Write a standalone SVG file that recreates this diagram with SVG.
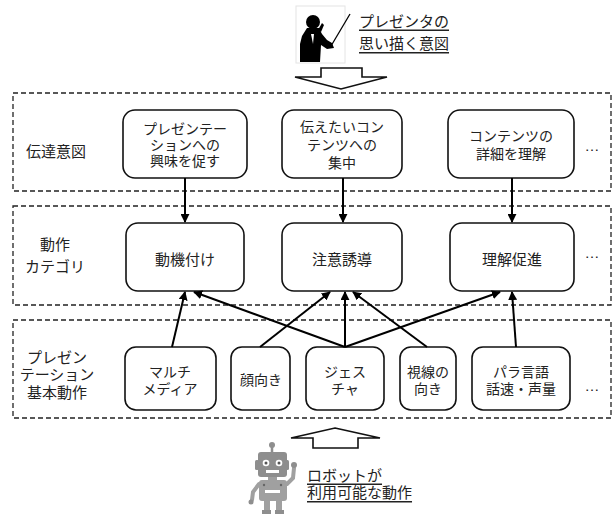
<svg xmlns="http://www.w3.org/2000/svg" width="614" height="515" viewBox="0 0 614 515">
  <defs>
    <style>
      text { font-family: "Liberation Sans", "Noto Sans CJK JP", sans-serif; fill: #222; }
      .frame { fill: none; stroke: #222; stroke-width: 1.3; stroke-dasharray: 5 3; }
      .box { fill: #fff; stroke: #111; stroke-width: 1.6; }
      .t { font-size: 14px; text-anchor: middle; dominant-baseline: central; }
      .t2 { font-size: 15px; text-anchor: middle; dominant-baseline: central; }
      .lbl { font-size: 15px; text-anchor: middle; dominant-baseline: central; }
      .cap { font-size: 15px; dominant-baseline: central; text-decoration: underline; }
      .dots { font-size: 15px; text-anchor: middle; dominant-baseline: central; }
      .edge { stroke: #000; stroke-width: 2; fill: none; marker-end: url(#head); }
      .block { fill: #fff; stroke: #111; stroke-width: 1.6; stroke-linejoin: miter; }
      .rb { fill: #8e8e8e; }
      .rl { fill: #a0a0a0; }
    </style>
    <marker id="head" viewBox="0 0 10 10" refX="9" refY="5" markerWidth="4.5" markerHeight="4.5" orient="auto" markerUnits="strokeWidth">
      <path d="M0,0 L10,5 L0,10 Z" fill="#000"/>
    </marker>
  </defs>

  <!-- presenter with pointer -->
  <g id="presenter">
    <rect x="296" y="6" width="49" height="57" fill="#fff" stroke="#e4e4e4" stroke-width="1"/>
    <circle cx="313" cy="22" r="7" fill="#000"/>
    <path d="M307,28 L319,28 L322,34 L327,40 L332,43 L334,48 L327,49 L321,45 L320,62 L300,62 L300,44 L302,36 Z" fill="#000"/>
    <path d="M318,30 L322,23 L324,25 L321,32 Z" fill="#000"/>
    <line x1="331" y1="46" x2="350" y2="14" stroke="#000" stroke-width="1.3"/>
    <path d="M311,34 L314,34 L313,44 Z" fill="#fff"/>
    <text class="cap" x="359" y="21">プレゼンタの<tspan x="359" dy="22">思い描く意図</tspan></text>
  </g>

  <!-- hollow down arrow -->
  <polygon class="block" points="321,68 362,68 362,77 387,77 341,89 295,77 321,77"/>

  <!-- layer frames -->
  <rect class="frame" x="13" y="93" width="598" height="98"/>
  <rect class="frame" x="13" y="206" width="598" height="99"/>
  <rect class="frame" x="13" y="320" width="598" height="98"/>

  <!-- layer labels -->
  <g id="label-intent">
    <text class="lbl" x="56" y="151">伝達意図</text>
  </g>
  <g id="label-category">
    <text class="lbl" x="55" y="244">動作<tspan x="55" dy="22">カテゴリ</tspan></text>
  </g>
  <g id="label-basic">
    <text class="lbl" x="57" y="357">プレゼン<tspan x="57" dy="17">テーション</tspan><tspan x="57" dy="18">基本動作</tspan></text>
  </g>

  <!-- intent nodes -->
  <g id="intent-interest">
    <rect class="box" x="123" y="110" width="124" height="68" rx="12"/>
    <text class="t" x="185" y="129">プレゼンテー<tspan x="185" dy="16">ションへの</tspan><tspan x="185" dy="16">興味を促す</tspan></text>
  </g>
  <g id="intent-focus">
    <rect class="box" x="282" y="110" width="120" height="68" rx="12"/>
    <text class="t" x="342" y="127">伝えたいコン<tspan x="342" dy="18">テンツへの</tspan><tspan x="342" dy="18">集中</tspan></text>
  </g>
  <g id="intent-detail">
    <rect class="box" x="448" y="110" width="126" height="68" rx="12"/>
    <text class="t" x="511" y="136">コンテンツの<tspan x="511" dy="18">詳細を理解</tspan></text>
  </g>
  <text class="dots" x="592" y="145">…</text>

  <!-- category nodes -->
  <g id="cat-motivate">
    <rect class="box" x="126" y="223" width="118" height="68" rx="12"/>
    <text class="t2" x="185" y="259">動機付け</text>
  </g>
  <g id="cat-attention">
    <rect class="box" x="282" y="223" width="120" height="68" rx="12"/>
    <text class="t2" x="342" y="259">注意誘導</text>
  </g>
  <g id="cat-understand">
    <rect class="box" x="450" y="223" width="124" height="68" rx="12"/>
    <text class="t2" x="512" y="259">理解促進</text>
  </g>
  <text class="dots" x="592" y="252">…</text>

  <!-- basic action nodes -->
  <g id="act-multimedia">
    <rect class="box" x="125" y="347" width="91" height="63" rx="11"/>
    <text class="t" x="170" y="372">マルチ<tspan x="170" dy="17">メディア</tspan></text>
  </g>
  <g id="act-face">
    <rect class="box" x="231" y="347" width="59" height="63" rx="11"/>
    <text class="t" x="261" y="380">顔向き</text>
  </g>
  <g id="act-gesture">
    <rect class="box" x="306" y="347" width="78" height="63" rx="11"/>
    <text class="t" x="345" y="372">ジェス<tspan x="345" dy="17">チャ</tspan></text>
  </g>
  <g id="act-gaze">
    <rect class="box" x="400" y="347" width="56" height="63" rx="11"/>
    <text class="t" x="428" y="372">視線の<tspan x="428" dy="17">向き</tspan></text>
  </g>
  <g id="act-para">
    <rect class="box" x="472" y="347" width="98" height="63" rx="11"/>
    <text class="t" x="521" y="372">パラ言語<tspan x="521" dy="17">話速・声量</tspan></text>
  </g>
  <text class="dots" x="592" y="385">…</text>

  <!-- connectors -->
  <g id="connectors">
    <line class="edge" x1="185" y1="178" x2="185" y2="222"/>
    <line class="edge" x1="343" y1="178" x2="343" y2="222"/>
    <line class="edge" x1="512" y1="178" x2="512" y2="222"/>

    <line class="edge" x1="172" y1="347" x2="185" y2="292"/>
    <line class="edge" x1="345" y1="347" x2="194" y2="292"/>
    <line class="edge" x1="260" y1="347" x2="330" y2="292"/>
    <line class="edge" x1="345" y1="347" x2="345" y2="292"/>
    <line class="edge" x1="427" y1="347" x2="353" y2="292"/>
    <line class="edge" x1="345" y1="347" x2="500" y2="292"/>
    <line class="edge" x1="516" y1="347" x2="512" y2="292"/>
  </g>

  <!-- hollow up arrow -->
  <polygon class="block" points="335,428 380,438 358,438 358,448 313,448 313,438 291,438"/>

  <!-- robot -->
  <g id="robot">
    <line x1="272" y1="446" x2="272" y2="453" stroke="#8e8e8e" stroke-width="2.5"/>
    <circle class="rb" cx="272" cy="445" r="3"/>
    <rect class="rb" x="255" y="460" width="4" height="10" rx="1.5"/>
    <rect class="rb" x="285" y="460" width="4" height="10" rx="1.5"/>
    <rect class="rb" x="258" y="452" width="29" height="25" rx="3"/>
    <circle cx="266" cy="463" r="3.3" fill="#fff"/>
    <circle cx="279" cy="463" r="3.3" fill="#fff"/>
    <circle cx="266" cy="463" r="1.5" fill="#555"/>
    <circle cx="279" cy="463" r="1.5" fill="#555"/>
    <rect x="266" y="470" width="13" height="3" fill="#fff"/>
    <rect class="rl" x="268" y="477" width="9" height="3"/>
    <rect class="rl" x="259" y="480" width="28" height="21" rx="3"/>
    <rect x="265" y="490" width="15" height="3" fill="#fff"/>
    <circle cx="264" cy="485" r="1.2" fill="#666"/>
    <circle cx="281" cy="485" r="1.2" fill="#666"/>
    <path d="M259,484 L253,492 L252,500" stroke="#a0a0a0" stroke-width="4" fill="none" stroke-linecap="round"/>
    <circle class="rb" cx="251" cy="502" r="2.5"/>
    <path d="M287,484 L293,478 L294,468" stroke="#a0a0a0" stroke-width="4" fill="none" stroke-linecap="round"/>
    <circle class="rb" cx="294" cy="465" r="3"/>
    <rect class="rl" x="264" y="501" width="6" height="10"/>
    <rect class="rl" x="276" y="501" width="6" height="10"/>
    <rect class="rb" x="262" y="510" width="9" height="4"/>
    <rect class="rb" x="275" y="510" width="9" height="4"/>
    <text class="cap" x="307" y="475">ロボットが<tspan x="307" dy="17">利用可能な動作</tspan></text>
  </g>
</svg>
